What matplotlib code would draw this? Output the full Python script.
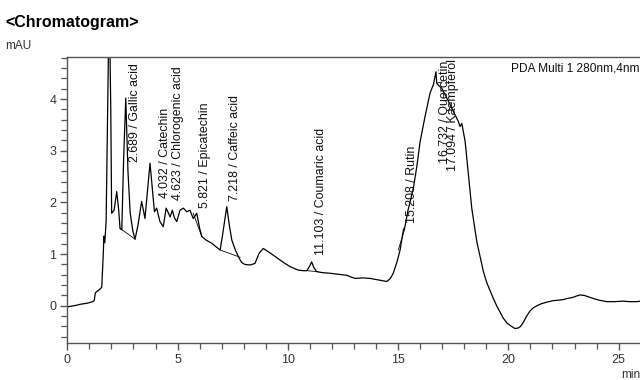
import matplotlib
matplotlib.use("Agg")
import matplotlib.pyplot as plt
from matplotlib.ticker import MultipleLocator

plt.rcParams["font.family"] = ["Liberation Sans", "DejaVu Sans"]

# chromatogram trace (min, mAU)
time_min = [
    0.00, 0.30, 0.60, 0.90, 1.15, 1.22, 1.27, 1.35, 1.50, 1.56,
    1.62, 1.66, 1.70, 1.76, 1.84, 1.90, 1.97, 2.01, 2.12, 2.24,
    2.33, 2.39, 2.47, 2.55, 2.65, 2.75, 2.85, 2.97, 3.07, 3.20,
    3.37, 3.45, 3.52, 3.63, 3.75, 3.85, 3.95, 4.05, 4.20, 4.35,
    4.48, 4.58, 4.66, 4.76, 4.86, 4.96, 5.11, 5.26, 5.42, 5.56,
    5.71, 5.87, 6.00, 6.10, 6.30, 6.55, 6.75, 6.93, 7.05, 7.23,
    7.35, 7.46, 7.62, 7.76, 7.90, 8.05, 8.29, 8.51, 8.70, 8.89,
    9.10, 9.34, 9.60, 9.87, 10.10, 10.30, 10.48, 10.70, 10.86, 10.98,
    11.08, 11.18, 11.31, 11.60, 11.91, 12.30, 12.67, 12.85, 13.05, 13.40,
    13.73, 14.10, 14.49, 14.65, 14.78, 14.95, 15.09, 15.24, 15.31, 15.45,
    15.69, 15.85, 16.00, 16.22, 16.45, 16.60, 16.72, 16.75, 16.85, 16.98,
    17.21, 17.51, 17.73, 17.81, 17.89, 18.04, 18.19, 18.34, 18.57, 18.87,
    19.02, 19.32, 19.47, 19.77, 19.95, 20.15, 20.30, 20.45, 20.55, 20.68,
    20.83, 20.98, 21.13, 21.29, 21.50, 21.74, 22.04, 22.30, 22.49, 22.65,
    22.90, 23.10, 23.25, 23.45, 23.65, 23.86, 24.10, 24.46, 24.80, 25.20,
    25.50, 25.82, 26.00,
]
signal_mau = [
    -0.02, 0.00, 0.03, 0.05, 0.08, 0.10, 0.25, 0.28, 0.33, 0.36,
    0.90, 1.35, 1.22, 1.65, 4.20, 6.00, 3.80, 1.79, 1.85, 2.21,
    1.85, 1.50, 1.47, 2.80, 4.02, 2.60, 1.80, 1.45, 1.29, 1.55,
    2.02, 1.85, 1.69, 2.20, 2.76, 2.30, 1.82, 1.89, 1.63, 1.53,
    1.89, 1.80, 1.72, 1.85, 1.70, 1.63, 1.85, 1.89, 1.82, 1.85,
    1.69, 1.79, 1.50, 1.34, 1.27, 1.21, 1.14, 1.08, 1.40, 1.92,
    1.55, 1.27, 1.08, 0.95, 0.84, 0.80, 0.79, 0.82, 1.02, 1.11,
    1.05, 0.98, 0.90, 0.82, 0.76, 0.72, 0.69, 0.68, 0.68, 0.76,
    0.85, 0.74, 0.66, 0.64, 0.63, 0.61, 0.59, 0.56, 0.53, 0.54,
    0.53, 0.50, 0.47, 0.53, 0.63, 0.85, 1.08, 1.47, 1.53, 1.85,
    2.27, 2.70, 3.18, 3.66, 4.12, 4.28, 4.53, 4.31, 4.26, 4.21,
    4.02, 3.76, 3.57, 3.47, 3.53, 3.18, 2.53, 1.89, 1.24, 0.66,
    0.45, 0.14, 0.00, -0.24, -0.34, -0.40, -0.44, -0.43, -0.40, -0.32,
    -0.20, -0.10, -0.04, 0.00, 0.04, 0.07, 0.10, 0.11, 0.12, 0.14,
    0.16, 0.19, 0.21, 0.20, 0.17, 0.14, 0.11, 0.08, 0.08, 0.09,
    0.08, 0.08, 0.09,
]

# integration baselines drawn under some peaks: (t0, v0, t1, v1)
baselines = [
    (2.39, 1.50, 3.07, 1.29),
    (5.71, 1.79, 6.10, 1.34),
    (6.93, 1.08, 7.83, 0.94),
    (10.86, 0.68, 11.38, 0.66),
    (15.01, 1.08, 15.31, 1.50),
    (16.75, 4.31, 16.98, 4.33),
]

# peak labels
peak_rt = [2.689, 4.032, 4.623, 5.821, 7.218, 11.103, 15.208, 16.732, 17.094]
peak_names = ["Gallic acid", "Catechin", "Chlorogenic acid", "Epicatechin",
              "Caffeic acid", "Coumaric acid", "Rutin", "Quercetin", "Kaempferol"]
label_bottom = [2.79, 2.09, 2.05, 1.89, 2.02, 0.98, 1.60, 2.76, 2.60]

fig = plt.figure(figsize=(6.4, 3.8), dpi=100)
ax = fig.add_axes([0.1052, 0.0974, 0.8948, 0.7518])

ax.plot(time_min, signal_mau, color="black", linewidth=0.9)
for t0, v0, t1, v1 in baselines:
    ax.plot([t0, t1], [v0, v1], color="black", linewidth=0.6)

for rt, name, yb in zip(peak_rt, peak_names, label_bottom):
    ax.text(rt + 0.40, yb, f"{rt:.3f} / {name}", rotation=90,
            ha="center", va="bottom", fontsize=8.9, color="#111111")

ax.text(20.12, 4.6, "PDA Multi 1 280nm,4nm", fontsize=8.6,
        ha="left", va="center", color="#111111")

ax.set_xlim(0, 25.97)
ax.set_ylim(-0.72, 4.81)
ax.xaxis.set_major_locator(MultipleLocator(5))
ax.xaxis.set_minor_locator(MultipleLocator(1))
ax.yaxis.set_major_locator(MultipleLocator(1))
ax.yaxis.set_minor_locator(MultipleLocator(0.2))

for side in ["left", "bottom", "top"]:
    ax.spines[side].set_color("#555555")
    ax.spines[side].set_linewidth(1.0)
ax.spines["right"].set_visible(False)

ax.tick_params(which="both", direction="out", color="#555555",
               labelcolor="#333333", labelsize=9)
ax.tick_params(which="major", length=5, width=1.0, pad=3)
ax.tick_params(which="minor", length=4, width=0.9)

fig.text(0.008, 1 - 27 / 380, "<Chromatogram>", fontsize=11.5,
         fontweight="bold", va="baseline", ha="left")
fig.text(0.008, 1 - 49 / 380, "mAU", fontsize=8.5, va="baseline",
         ha="left", color="#333333")
fig.text(621 / 640, 1 - 378 / 380, "min", fontsize=8.5, va="baseline",
         ha="left", color="#333333")

fig.savefig("out.png", dpi=100)
plt.close(fig)
